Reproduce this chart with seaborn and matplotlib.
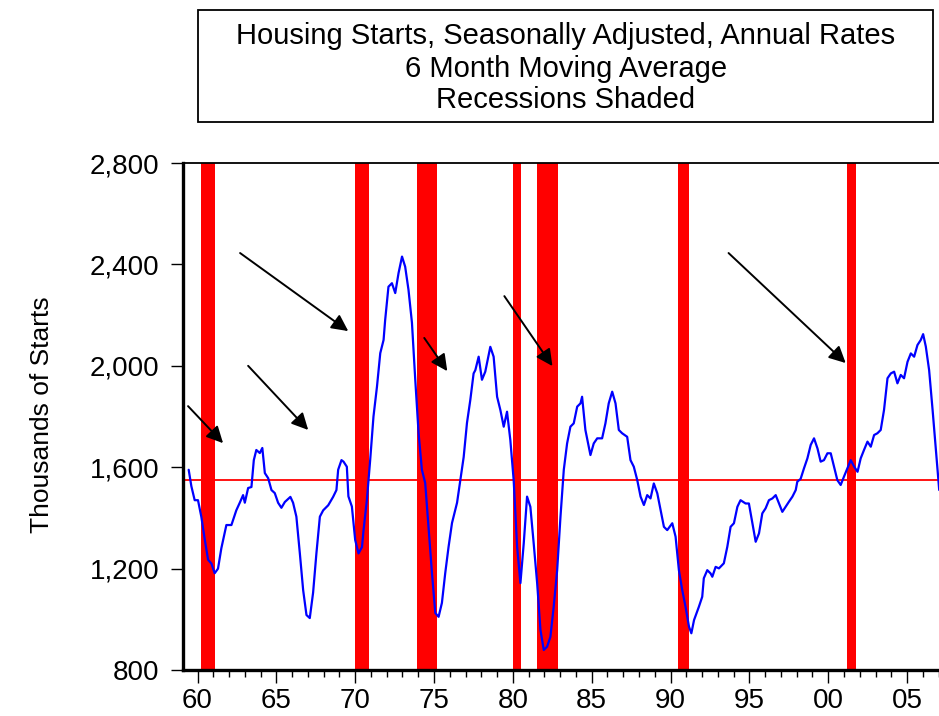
import matplotlib
matplotlib.use("Agg")
import matplotlib.pyplot as plt
import seaborn as sns
import pandas as pd
from matplotlib.patches import Rectangle
from matplotlib.ticker import MultipleLocator, FuncFormatter

# 6-month moving average of housing starts (thousands, SAAR)
years = [
    1959.44, 1959.61, 1959.82, 1960.03, 1960.24, 1960.46, 1960.67, 1960.88, 1961.09, 1961.30,
    1961.51, 1961.83, 1962.15, 1962.46, 1962.68, 1962.89, 1963.00, 1963.21, 1963.42, 1963.57,
    1963.73, 1963.95, 1964.11, 1964.27, 1964.48, 1964.69, 1964.90, 1965.11, 1965.32, 1965.54,
    1965.89, 1966.06, 1966.27, 1966.49, 1966.70, 1966.91, 1967.12, 1967.33, 1967.54, 1967.76,
    1967.97, 1968.29, 1968.60, 1968.81, 1968.92, 1969.13, 1969.26, 1969.47, 1969.57, 1969.79,
    1970.00, 1970.21, 1970.43, 1970.53, 1970.74, 1970.95, 1971.16, 1971.38, 1971.59, 1971.80,
    1971.90, 1972.11, 1972.33, 1972.54, 1972.75, 1972.97, 1973.17, 1973.38, 1973.60, 1973.81,
    1974.02, 1974.23, 1974.44, 1974.65, 1974.87, 1975.08, 1975.29, 1975.50, 1975.71, 1975.92,
    1976.14, 1976.46, 1976.67, 1976.88, 1977.09, 1977.30, 1977.51, 1977.62, 1977.83, 1978.04,
    1978.25, 1978.57, 1978.78, 1979.00, 1979.21, 1979.42, 1979.63, 1979.84, 1980.05, 1980.27,
    1980.48, 1980.69, 1980.90, 1981.11, 1981.32, 1981.54, 1981.75, 1981.96, 1982.17, 1982.38,
    1982.59, 1982.81, 1983.02, 1983.23, 1983.44, 1983.65, 1983.86, 1984.08, 1984.29, 1984.39,
    1984.60, 1984.81, 1984.92, 1985.13, 1985.35, 1985.66, 1985.87, 1986.08, 1986.30, 1986.51,
    1986.72, 1986.93, 1987.25, 1987.46, 1987.67, 1987.89, 1988.10, 1988.31, 1988.52, 1988.73,
    1988.94, 1989.16, 1989.37, 1989.58, 1989.79, 1990.11, 1990.32, 1990.53, 1990.74, 1990.95,
    1991.17, 1991.32, 1991.49, 1991.80, 1992.01, 1992.11, 1992.33, 1992.54, 1992.65, 1992.86,
    1993.07, 1993.38, 1993.60, 1993.81, 1994.02, 1994.24, 1994.44, 1994.76, 1994.97, 1995.19,
    1995.40, 1995.61, 1995.82, 1996.03, 1996.24, 1996.46, 1996.67, 1996.88, 1997.09, 1997.30,
    1997.51, 1997.73, 1997.94, 1998.04, 1998.25, 1998.46, 1998.68, 1998.89, 1999.10, 1999.32,
    1999.52, 1999.73, 1999.95, 2000.16, 2000.37, 2000.58, 2000.79, 2001.00, 2001.22, 2001.43,
    2001.65, 2001.86, 2002.06, 2002.27, 2002.49, 2002.70, 2002.91, 2003.12, 2003.33, 2003.54,
    2003.76, 2003.97, 2004.18, 2004.39, 2004.60, 2004.81, 2005.03, 2005.24, 2005.45, 2005.66,
    2005.87, 2006.02, 2006.19, 2006.40, 2006.62, 2006.83, 2007.04,
]
starts = [
    1590, 1525, 1470, 1470, 1405, 1315, 1235, 1220, 1182, 1200,
    1280, 1372, 1372, 1430, 1460, 1490, 1460, 1518, 1522, 1628,
    1668, 1656, 1676, 1577, 1557, 1510, 1498, 1460, 1440, 1463,
    1483, 1460, 1405, 1260, 1115, 1017, 1005, 1105, 1260, 1405,
    1430, 1450, 1483, 1510, 1590, 1628, 1622, 1602, 1485, 1445,
    1313, 1260, 1285, 1352, 1470, 1628, 1800, 1917, 2050, 2102,
    2180, 2312, 2326, 2287, 2366, 2431, 2391, 2300, 2170, 1945,
    1735, 1590, 1538, 1365, 1182, 1025, 1010, 1065, 1182, 1285,
    1380, 1460, 1550, 1640, 1775, 1865, 1970, 1983, 2036, 1945,
    1977, 2075, 2036, 1878, 1825, 1760, 1819, 1707, 1550, 1286,
    1143, 1300, 1484, 1444, 1300, 1143, 958, 879, 892, 931,
    1050, 1194, 1405, 1590, 1694, 1760, 1773, 1839, 1852, 1878,
    1747, 1681, 1648, 1694, 1714, 1714, 1773, 1852, 1898, 1852,
    1747, 1734, 1720, 1628, 1602, 1549, 1484, 1451, 1490, 1477,
    1536, 1497, 1430, 1365, 1352, 1379, 1326, 1194, 1116, 1050,
    971, 945, 997, 1050, 1089, 1162, 1194, 1181, 1168, 1207,
    1201, 1221, 1286, 1365, 1379, 1444, 1470, 1457, 1457, 1379,
    1306, 1339, 1418, 1438, 1470, 1477, 1490, 1457, 1424, 1444,
    1464, 1484, 1510, 1543, 1554, 1595, 1635, 1688, 1714, 1674,
    1622, 1628, 1655, 1655, 1602, 1549, 1530, 1563, 1596, 1628,
    1602, 1582, 1635, 1668, 1701, 1681, 1727, 1734, 1747, 1826,
    1951, 1970, 1977, 1931, 1964, 1951, 2016, 2049, 2036, 2082,
    2102, 2125, 2076, 1983, 1826, 1668, 1510,
]

# NBER recessions as shaded on the chart
recession_start = [1960.24, 1969.96, 1973.89, 1980.01, 1981.51, 1990.49, 2001.16]
recession_end = [1961.13, 1970.89, 1975.21, 1980.52, 1982.84, 1991.17, 2001.79]

mean_level = 1550

# arrows pointing at the turns ahead of recessions (tail -> head, data units)
arrow_tail_x = [1959.40, 1963.21, 1962.70, 1974.38, 1979.46, 1993.68]
arrow_tail_y = [1841, 2000, 2445, 2110, 2275, 2445]
arrow_head_x = [1961.62, 1967.02, 1969.56, 1975.84, 1982.51, 2001.11]
arrow_head_y = [1695, 1747, 2137, 1979, 1999, 2011]

title_lines = [
    "Housing Starts, Seasonally Adjusted, Annual Rates",
    "6 Month Moving Average",
    "Recessions Shaded",
]

sns.set_style("white")
plt.rcParams["font.family"] = ["Liberation Sans", "DejaVu Sans"]
plt.rcParams["text.color"] = "black"
plt.rcParams["axes.labelcolor"] = "black"

fig = plt.figure(figsize=(9.39, 7.16), dpi=100)
ax = fig.add_axes([0.1949, 0.0642, 0.806, 0.7081])

for s, e in zip(recession_start, recession_end):
    ax.axvspan(s, e, color="#ff0000", lw=0, zorder=1)
ax.axhline(mean_level, color="#ff0000", lw=1.3, zorder=2)

df = pd.DataFrame({"year": years, "starts": starts})
sns.lineplot(data=df, x="year", y="starts", color="#0000ff", lw=1.6,
             estimator=None, ax=ax, zorder=3)

for tx, ty, hx, hy in zip(arrow_tail_x, arrow_tail_y, arrow_head_x, arrow_head_y):
    ax.annotate("", xy=(hx, hy), xytext=(tx, ty),
                arrowprops=dict(arrowstyle="-|>", mutation_scale=25, lw=1.4,
                                color="black", shrinkA=0, shrinkB=0),
                zorder=4)

ax.set_xlim(1959.08, 2007.08)
ax.set_ylim(800, 2800)
ax.set_xlabel("")
ax.set_ylabel("")

ax.set_yticks(range(800, 2801, 400))
ax.yaxis.set_major_formatter(FuncFormatter(lambda v, p: f"{int(v):,}"))
ax.set_xticks(range(1960, 2006, 5))
ax.xaxis.set_minor_locator(MultipleLocator(1))
ax.xaxis.set_major_formatter(FuncFormatter(lambda v, p: f"{int(round(v)) % 100:02d}"))

ax.tick_params(axis="both", which="major", direction="out", length=9, width=1,
               labelsize=20, color="black", labelcolor="black")
ax.tick_params(axis="y", which="major", pad=8)
ax.tick_params(axis="x", which="major", pad=4)
ax.tick_params(axis="x", which="minor", direction="out", length=5, width=1,
               color="black")
ax.tick_params(axis="x", which="both", bottom=True)
ax.tick_params(axis="y", which="both", left=True)

for side in ["left", "bottom"]:
    ax.spines[side].set_linewidth(2.4)
    ax.spines[side].set_color("black")
ax.spines["top"].set_linewidth(1.3)
ax.spines["top"].set_color("black")
ax.spines["right"].set_visible(False)

# title box
fig.patches.append(Rectangle((0.2109, 0.8296), 0.7827, 0.1564, transform=fig.transFigure,
                             fill=False, ec="black", lw=1.3))
for txt, yy in zip(title_lines, [0.950, 0.904, 0.860]):
    fig.text(0.6028, yy, txt, ha="center", va="center", fontsize=21, color="black")

fig.text(0.0447, 0.4204, "Thousands of Starts", rotation=90, ha="center",
         va="center", fontsize=19, color="black")

fig.savefig("out.png", dpi=100)
plt.close(fig)
